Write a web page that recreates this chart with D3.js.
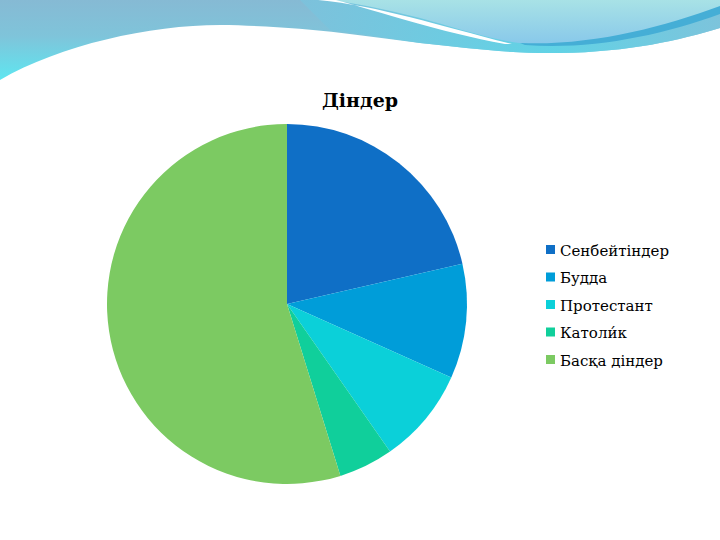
<!DOCTYPE html>
<html>
<head>
<meta charset="utf-8">
<script src="https://cdn.jsdelivr.net/npm/d3@7/dist/d3.min.js"></script>
<style>
html,body{margin:0;padding:0;background:#fff;}
svg{display:block;}
</style>
</head>
<body>
<svg id="chart" width="720" height="540"></svg>
<script>
const title = "Діндер";
const categories = ["Сенбейтіндер", "Будда", "Протестант", "Католик", "Басқа діндер"];
const legendLabels = ["Сенбейтіндер", "Будда", "Протестант", "Католи́к", "Басқа діндер"];
const values = [21.4, 10.3, 8.6, 4.9, 54.8];
const colors = ["#0F6FC6", "#009DD9", "#0BD0D9", "#10CF9B", "#7CCA62"];

const svg = d3.select("#chart");
const defs = svg.append("defs");

// background decoration
const g1 = defs.append("linearGradient").attr("id","bandL").attr("x1","0").attr("y1","0").attr("x2","0").attr("y2","1");
g1.append("stop").attr("offset","0").attr("stop-color","#86bad4");
g1.append("stop").attr("offset","0.45").attr("stop-color","#7fc4da");
g1.append("stop").attr("offset","1").attr("stop-color","#5ee6f0");
const g2 = defs.append("linearGradient").attr("id","bandR").attr("x1","0").attr("y1","0").attr("x2","0").attr("y2","1");
g2.append("stop").attr("offset","0").attr("stop-color","#a8e2e6");
g2.append("stop").attr("offset","1").attr("stop-color","#88c8ea");
const g3 = defs.append("linearGradient").attr("id","bandC").attr("x1","0").attr("y1","0").attr("x2","1").attr("y2","0");
g3.append("stop").attr("offset","0").attr("stop-color","#7cc2dc");
g3.append("stop").attr("offset","0.6").attr("stop-color","#5fd3e6");
g3.append("stop").attr("offset","1").attr("stop-color","#7cc4dc");

const deco = svg.append("g");
deco.append("path")
  .attr("d","M0,0 L720,0 L720,28 C680,40 630,52 560,53 C510,54 470,48 420,43 C360,35 300,26 220,25 C150,25 60,45 0,80 Z")
  .attr("fill","url(#bandL)");
deco.append("path")
  .attr("d","M300,0 L720,0 L720,28 C680,40 630,52 560,53 C510,54 470,48 420,43 C380,37 350,32 330,30 Z")
  .attr("fill","url(#bandC)").attr("opacity",0.9);
deco.append("path")
  .attr("d","M326,0 L720,0 L720,8 C660,30 590,45 530,44 C500,42 470,32 420,18 C380,8 350,2 326,0 Z")
  .attr("fill","url(#bandR)");
deco.append("path")
  .attr("d","M520,43 C590,46 660,28 720,6 L720,14 C660,36 590,50 525,45 Z")
  .attr("fill","#45aed6");
deco.append("path")
  .attr("d","M318,0 C380,6 440,26 512,44 L505,44 C440,32 380,12 336,0 Z")
  .attr("fill","#ffffff");

// pie
const cx = 287, cy = 304, r = 180;
const pie = d3.pie().sort(null).value(d => d.v);
const arc = d3.arc().innerRadius(0).outerRadius(r);
const data = categories.map((c,i) => ({c, v: values[i], col: colors[i]}));
svg.append("g").attr("transform", `translate(${cx},${cy})`)
  .selectAll("path").data(pie(data)).join("path")
  .attr("d", arc).attr("fill", d => d.data.col);

// title
svg.append("text").attr("x", 360).attr("y", 107).attr("text-anchor","middle")
  .attr("font-family","'DejaVu Serif', serif").attr("font-weight","bold")
  .attr("font-size", 19).attr("fill","#000").text(title);

// legend
const leg = svg.append("g");
const rowY = d3.scalePoint().domain(categories).range([250, 360]);
categories.forEach((c,i) => {
  const y = rowY(c);
  leg.append("rect").attr("x", 546).attr("y", y - 5).attr("width", 9).attr("height", 9).attr("fill", colors[i]);
  leg.append("text").attr("x", 560).attr("y", y + 5.5)
    .attr("font-family","'DejaVu Serif', serif")
    .attr("font-size", 15).attr("fill","#000").text(legendLabels[i]);
});
</script>
</body>
</html>
